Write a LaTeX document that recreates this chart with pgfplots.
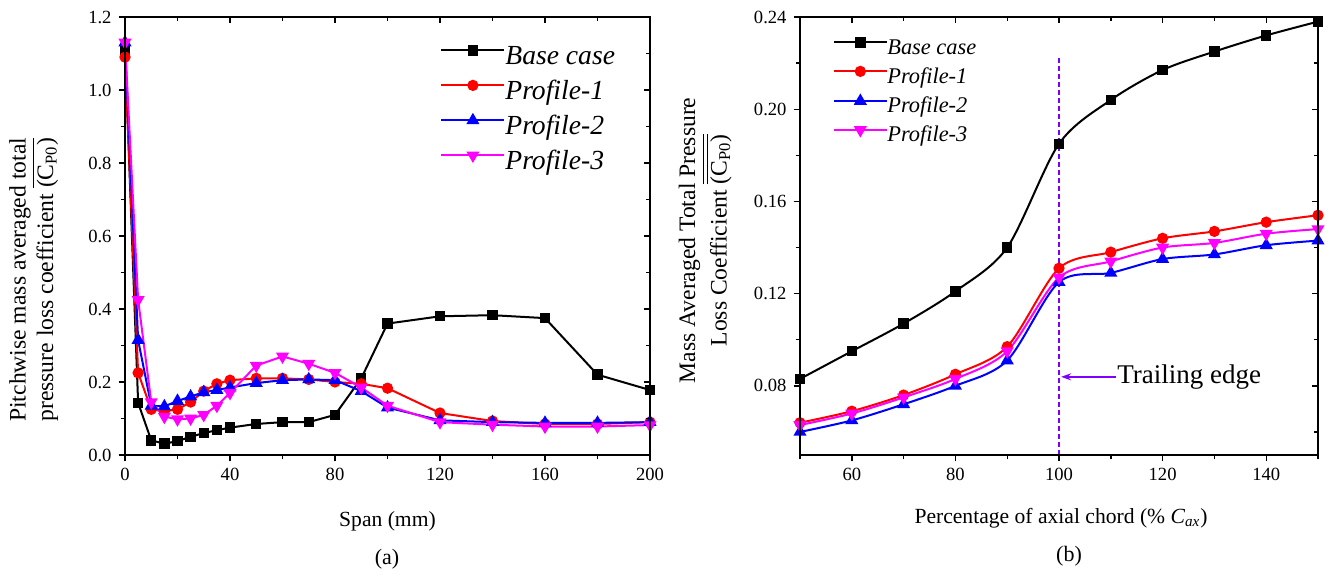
\documentclass[border=0pt]{standalone}
\usepackage{fontspec}
\setmainfont{Liberation Serif}
\usepackage{pgfplots}
\pgfplotsset{compat=1.18}
\usetikzlibrary{arrows.meta}
\definecolor{tecol}{RGB}{128,0,255}
\definecolor{pmag}{RGB}{255,0,255}
\definecolor{pred}{RGB}{255,0,0}
\definecolor{pblue}{RGB}{0,0,255}
\begin{document}
\begin{tikzpicture}
\path[use as bounding box] (0pt,0pt) rectangle (665pt,288.5pt);
\pgfplotsset{
  common/.style={scale only axis, height=219pt, anchor=south west,
    axis line style={line width=0.8pt},
    tick style={line width=0.7pt, black},
    major tick length=3.2pt, minor tick length=2.2pt,
    /pgf/number format/assume math mode=true,
    tick label style={font=\fontsize{9.3}{11}\selectfont},
    label style={font=\fontsize{10.8}{12.5}\selectfont},
  },
  mainax/.style={common, tick align=outside, xtick pos=left, ytick pos=left},
  overax/.style={common, tick align=inside, xtick pos=right, ytick pos=right,
    xticklabels={}, yticklabels={}},
  leftlim/.style={width=262.5pt, xmin=0, xmax=200, ymin=0, ymax=1.2,
    xtick={0,40,...,200}, minor xtick={20,60,...,180},
    ytick={0,0.2,...,1.2}, minor ytick={0.1,0.3,...,1.1}},
  rightlim/.style={width=259pt, xmin=50, xmax=150, ymin=0.05, ymax=0.24,
    xtick={60,80,...,140}, minor xtick={50,70,...,150},
    ytick={0.08,0.12,...,0.24}, minor ytick={0.06,0.10,...,0.22}},
  sb/.style={black, line width=1pt, mark=square*, mark size=2.1pt, mark options={solid}},
  sr/.style={pred, line width=1pt, mark=*, mark size=2.3pt, mark options={solid}},
  sbl/.style={pblue, line width=1pt, mark=triangle*, mark size=2.8pt, mark options={solid}},
  sm/.style={pmag, line width=1pt, mark=triangle*, mark size=2.8pt, mark options={solid, rotate=180}},
}
% ---------- (a) ----------
\begin{axis}[mainax, leftlim, at={(62.5pt,61pt)},
  yticklabel style={/pgf/number format/.cd, fixed, fixed zerofill, precision=1},
  xlabel={Span (mm)},
  xlabel style={at={(axis description cs:0.5,-0.151)}, anchor=center},
  ylabel={Pitchwise mass averaged total\\pressure loss coefficient $\overline{\mbox{(C\textsubscript{P0})}}$},
  ylabel style={at={(axis description cs:-0.174,0.40)}, anchor=center, align=center,
    font=\fontsize{11.8}{12.5}\selectfont},
  legend style={at={(axis description cs:0.5886,0.9475)}, anchor=north west,
    draw=none, fill=none, font=\fontsize{13.8}{16}\selectfont, row sep=4.5pt,
    nodes={inner sep=0pt, text height=10pt, text depth=3pt}},
  legend cell align=left,
  legend image code/.code={\draw[mark repeat=2,mark phase=2,#1] plot coordinates {(0pt,3.5pt) (15.75pt,3.5pt) (31.5pt,3.5pt)};},
  every odd column/.style={column sep=7pt},
]
\addplot[sb] coordinates {(0,1.11) (5,0.143) (10,0.04) (15,0.031) (20,0.038) (25,0.05) (30,0.06) (35,0.068) (40,0.075) (50,0.085) (60,0.09) (70,0.09) (80,0.11) (90,0.21) (100,0.36) (120,0.38) (140,0.383) (160,0.375) (180,0.22) (200,0.178)};
\addlegendentry{\textit{Base case}}
\addplot[sr] coordinates {(0,1.09) (5,0.225) (10,0.125) (15,0.12) (20,0.125) (25,0.145) (30,0.175) (35,0.195) (40,0.205) (50,0.21) (60,0.21) (70,0.207) (80,0.20) (90,0.195) (100,0.183) (120,0.115) (140,0.093) (160,0.085) (180,0.085) (200,0.09)};
\addlegendentry{\textit{Profile-1}}
\addplot[sbl] coordinates {(0,1.13) (5,0.315) (10,0.135) (15,0.133) (20,0.148) (25,0.16) (30,0.172) (35,0.178) (40,0.185) (50,0.197) (60,0.205) (70,0.207) (80,0.205) (90,0.175) (100,0.13) (120,0.095) (140,0.09) (160,0.088) (180,0.088) (200,0.09)};
\addlegendentry{\textit{Profile-2}}
\addplot[sm] coordinates {(0,1.13) (5,0.425) (10,0.145) (15,0.105) (20,0.098) (25,0.1) (30,0.11) (35,0.135) (40,0.17) (50,0.245) (60,0.27) (70,0.25) (80,0.225) (90,0.185) (100,0.135) (120,0.09) (140,0.083) (160,0.078) (180,0.078) (200,0.082)};
\addlegendentry{\textit{Profile-3}}
\end{axis}
\begin{axis}[overax, leftlim, at={(62.5pt,61pt)}]
\end{axis}
% ---------- (b) ----------
\begin{axis}[mainax, rightlim, at={(400pt,61pt)},
  yticklabel style={/pgf/number format/.cd, fixed, fixed zerofill, precision=2},
  xlabel={Percentage of axial chord (\% \textit{C}\textsubscript{\textit{ax}})},
  xlabel style={at={(axis description cs:0.504,-0.144)}, anchor=center},
  ylabel={Mass Averaged Total Pressure\\Loss Coefficient $\overline{\overline{\mbox{(C\textsubscript{P0})}}}$},
  ylabel style={at={(axis description cs:-0.183,0.49)}, anchor=center, align=center,
    font=\fontsize{11.8}{12.5}\selectfont},
  legend style={at={(axis description cs:0.052,0.9635)}, anchor=north west,
    draw=none, fill=none, font=\fontsize{11.2}{13}\selectfont, row sep=3.5pt,
    nodes={inner sep=0pt, text height=8.5pt, text depth=2.5pt}},
  legend cell align=left,
  legend image code/.code={\draw[mark repeat=2,mark phase=2,#1] plot coordinates {(0pt,3pt) (13pt,3pt) (26pt,3pt)};},
  every odd column/.style={column sep=4pt},
]
\addplot[sb, smooth] coordinates {(50,0.083) (60,0.095) (70,0.107) (80,0.121) (90,0.140) (100,0.185) (110,0.204) (120,0.217) (130,0.225) (140,0.232) (150,0.238)};
\addlegendentry{\textit{Base case}}
\addplot[sr, smooth] coordinates {(50,0.064) (60,0.069) (70,0.076) (80,0.085) (90,0.097) (100,0.131) (110,0.138) (120,0.144) (130,0.147) (140,0.151) (150,0.154)};
\addlegendentry{\textit{Profile-1}}
\addplot[sbl, smooth] coordinates {(50,0.060) (60,0.065) (70,0.072) (80,0.080) (90,0.091) (100,0.125) (110,0.129) (120,0.135) (130,0.137) (140,0.141) (150,0.143)};
\addlegendentry{\textit{Profile-2}}
\addplot[sm, smooth] coordinates {(50,0.063) (60,0.068) (70,0.075) (80,0.083) (90,0.095) (100,0.127) (110,0.134) (120,0.140) (130,0.142) (140,0.146) (150,0.148)};
\addlegendentry{\textit{Profile-3}}
\draw[tecol, line width=0.6pt, dash pattern=on 2.5pt off 1.5pt] (axis cs:100,0.05) -- (axis cs:100,0.2235);
\draw[tecol, line width=1pt, -{Stealth[length=5pt,width=3.5pt]}] (axis cs:111,0.0839) -- (axis cs:100.4,0.0839);
\node[anchor=west, inner sep=0pt, font=\fontsize{13.5}{15}\selectfont] at (axis cs:111.2,0.0839) {Trailing edge};
\end{axis}
\begin{axis}[overax, rightlim, at={(400pt,61pt)}]
\end{axis}
\node[font=\fontsize{11}{13}\selectfont] at (193.5pt,9pt) {(a)};
\node[font=\fontsize{11}{13}\selectfont] at (534.5pt,10.5pt) {(b)};
\end{tikzpicture}
\end{document}
